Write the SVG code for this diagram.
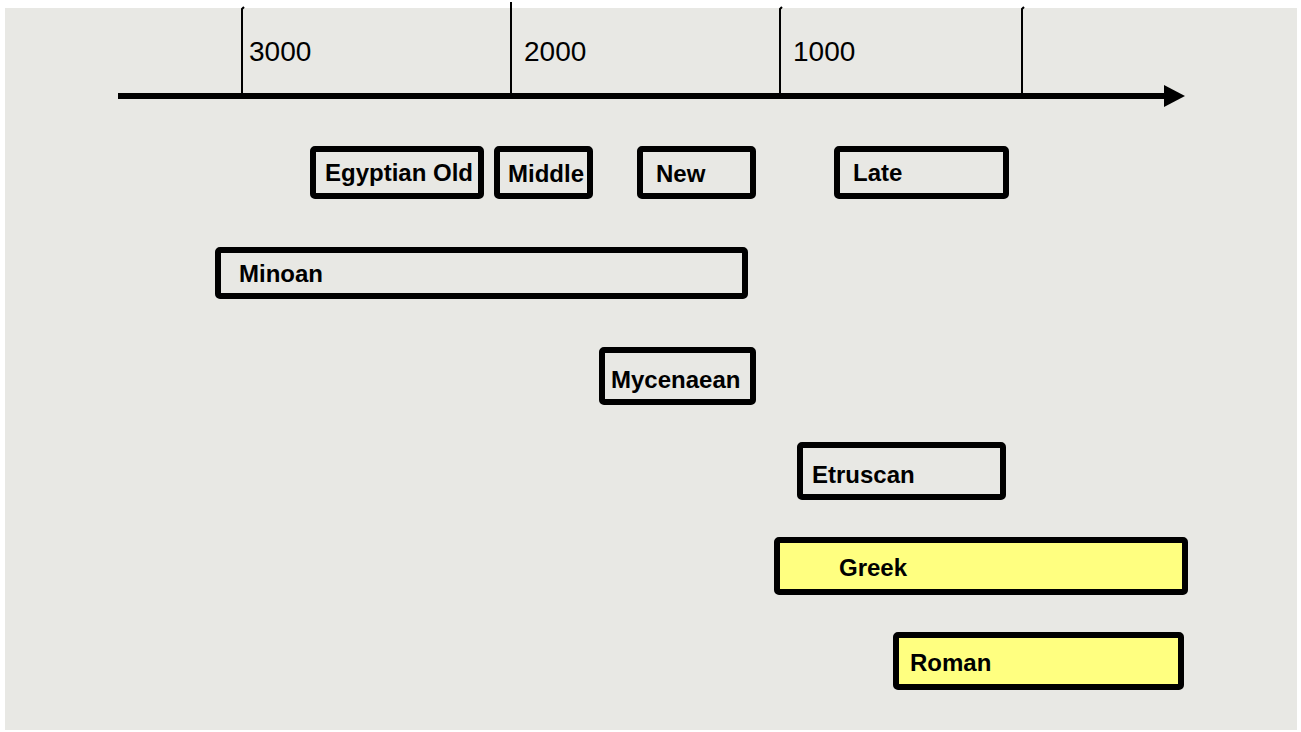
<svg xmlns="http://www.w3.org/2000/svg" width="1301" height="732" viewBox="0 0 1301 732">
<style>
.box rect{fill:none;stroke:#000;stroke-width:6;}
.box.y rect{fill:#ffff80;}
.box text{font-family:"Liberation Sans",Arial,sans-serif;font-weight:bold;font-size:24px;fill:#000;}
.tick{stroke:#000;stroke-width:2;fill:none;}
.tl{font-family:"Liberation Sans",Arial,sans-serif;font-size:28px;fill:#000;}
</style>
<rect x="0" y="0" width="1301" height="732" fill="#ffffff"/>
<rect x="5" y="8" width="1292" height="722" fill="#e8e8e4"/>
<g id="axis">
<path class="tick" d="M242,99 V9 l2,-2"/>
<path class="tick" d="M511,99 V2"/>
<path class="tick" d="M780,99 V9 l2,-2"/>
<path class="tick" d="M1022,99 V9 l2,-2"/>
<line x1="118" y1="96" x2="1166" y2="96" stroke="#000" stroke-width="6"/>
<polygon points="1164,85 1185,96 1164,107" fill="#000"/>
<text class="tl" x="249" y="61">3000</text>
<text class="tl" x="524" y="61">2000</text>
<text class="tl" x="793" y="61">1000</text>
</g>
<g id="egyptian-old" class="box"><rect x="313" y="149" width="168" height="47" rx="2"/><text x="325" y="181">Egyptian Old</text></g>
<g id="middle" class="box"><rect x="497" y="149" width="93" height="47" rx="2"/><text x="508" y="182">Middle</text></g>
<g id="new" class="box"><rect x="640" y="149" width="113" height="47" rx="2"/><text x="656" y="182">New</text></g>
<g id="late" class="box"><rect x="837" y="149" width="169" height="47" rx="2"/><text x="853" y="181">Late</text></g>
<g id="minoan" class="box"><rect x="218" y="250" width="527" height="46" rx="2"/><text x="239" y="282">Minoan</text></g>
<g id="mycenaean" class="box"><rect x="602" y="350" width="151" height="52" rx="2"/><text x="611" y="388">Mycenaean</text></g>
<g id="etruscan" class="box"><rect x="800" y="445" width="203" height="52" rx="2"/><text x="812" y="483">Etruscan</text></g>
<g id="greek" class="box y"><rect x="777" y="540" width="408" height="52" rx="2"/><text x="839" y="576">Greek</text></g>
<g id="roman" class="box y"><rect x="896" y="635" width="285" height="52" rx="2"/><text x="910" y="671">Roman</text></g>
</svg>
